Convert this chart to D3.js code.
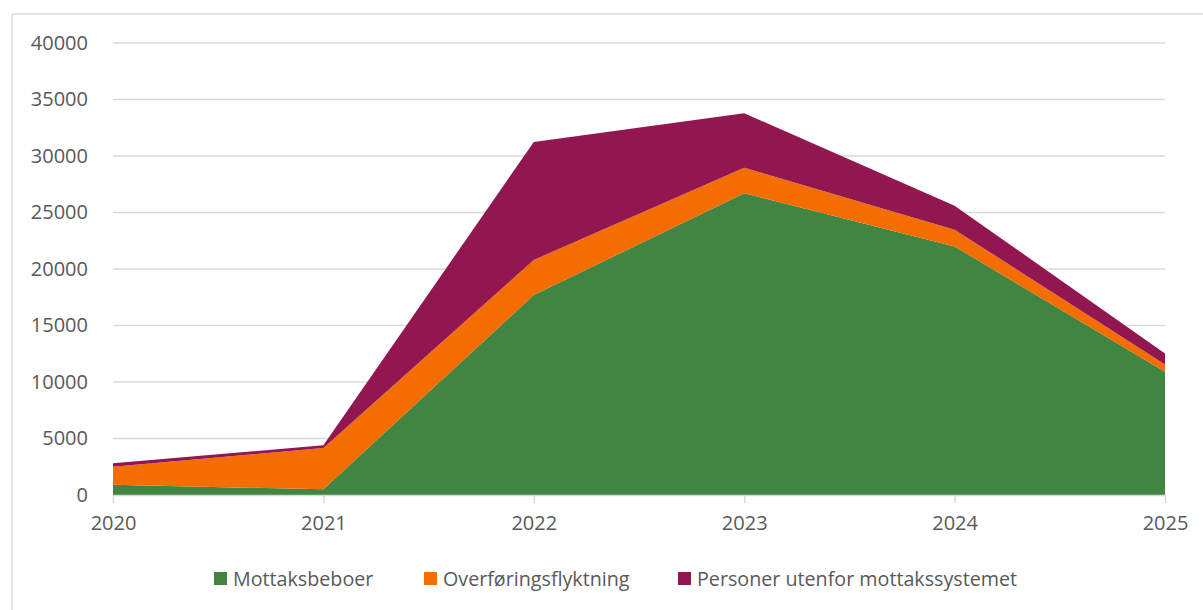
<!DOCTYPE html>
<html>
<head>
<meta charset="utf-8">
<script src="https://cdn.jsdelivr.net/npm/d3@7"></script>
<style>
  html, body { margin: 0; padding: 0; background: #fff; overflow: hidden; }
  svg { display: block; }
  svg text { font-family: 'Open Sans', sans-serif; fill: #595959; }
</style>
</head>
<body>
<div id="chart"></div>
<script>
// Chart data
const years = [2020, 2021, 2022, 2023, 2024, 2025];
const mottaksbeboer = [900, 500, 17700, 26700, 22000, 10900];
const overforingsflyktning = [1600, 3650, 3100, 2270, 1480, 650];
const personerUtenfor = [300, 250, 10450, 4810, 2120, 980];
const yTicks = [0, 5000, 10000, 15000, 20000, 25000, 30000, 35000, 40000];

const seriesNames = ['Mottaksbeboer', 'Overføringsflyktning', 'Personer utenfor mottakssystemet'];
const colors = ['#428442', '#f46d00', '#921751'];

const width = 1203;
const height = 610;
const margin = { top: 43, right: 38, bottom: 115, left: 113 };
const innerWidth = width - margin.left - margin.right;
const innerHeight = height - margin.top - margin.bottom;

const rows = years.map((year, i) => ({
  year,
  s0: mottaksbeboer[i],
  s1: overforingsflyktning[i],
  s2: personerUtenfor[i],
}));

const stacked = d3.stack().keys(['s0', 's1', 's2'])(rows);

const svg = d3.select('#chart').append('svg')
  .attr('width', width)
  .attr('height', height);

// Outer border (chart frame runs past the right and bottom edges)
const frame = svg.append('g')
  .attr('stroke', '#d9d9d9')
  .attr('stroke-width', 1.5);
frame.append('line').attr('x1', 12).attr('y1', 14).attr('x2', width).attr('y2', 14);
frame.append('line').attr('x1', 12).attr('y1', 14).attr('x2', 12).attr('y2', height);

const g = svg.append('g')
  .attr('transform', `translate(${margin.left}, ${margin.top})`);

const x = d3.scaleLinear().domain(d3.extent(years)).range([0, innerWidth]);
const y = d3.scaleLinear().domain([0, 40000]).range([innerHeight, 0]);

// Gridlines
g.append('g')
  .selectAll('line')
  .data(yTicks.slice(1))
  .enter()
  .append('line')
  .attr('x1', 0)
  .attr('x2', innerWidth)
  .attr('y1', d => y(d))
  .attr('y2', d => y(d))
  .attr('stroke', '#d9d9d9')
  .attr('stroke-width', 1.5);

// Areas
const area = d3.area()
  .x(d => x(d.data.year))
  .y0(d => y(d[0]))
  .y1(d => y(d[1]));

g.append('g')
  .selectAll('path')
  .data(stacked)
  .enter()
  .append('path')
  .attr('fill', (d, i) => colors[i])
  .attr('d', area);

// X axis
const xAxis = d3.axisBottom(x)
  .tickValues(years)
  .tickFormat(d3.format('d'))
  .tickSize(8)
  .tickSizeOuter(0)
  .tickPadding(8);

const xg = g.append('g')
  .attr('transform', `translate(0, ${innerHeight})`)
  .call(xAxis);
xg.select('.domain').attr('stroke', '#d9d9d9').attr('stroke-width', 1.5);
xg.selectAll('.tick line').attr('stroke', '#d9d9d9').attr('stroke-width', 1.5);
xg.selectAll('.tick text').attr('font-size', 20).attr('dy', '0.95em');

// Y axis
const yAxis = d3.axisLeft(y)
  .tickValues(yTicks)
  .tickFormat(d3.format('d'))
  .tickSize(0)
  .tickPadding(25);

const yg = g.append('g').call(yAxis);
yg.select('.domain').remove();
yg.selectAll('.tick text').attr('font-size', 20);

// Legend
const legendX = [214, 424, 678];
const legend = svg.append('g')
  .selectAll('g')
  .data(seriesNames)
  .enter()
  .append('g')
  .attr('transform', (d, i) => `translate(${legendX[i]}, 579)`);

legend.append('rect')
  .attr('x', 0)
  .attr('y', -7)
  .attr('width', 13)
  .attr('height', 13)
  .attr('fill', (d, i) => colors[i]);

legend.append('text')
  .attr('x', 19)
  .attr('dy', '0.35em')
  .attr('font-size', 19.7)
  .text(d => d);
</script>
</body>
</html>
